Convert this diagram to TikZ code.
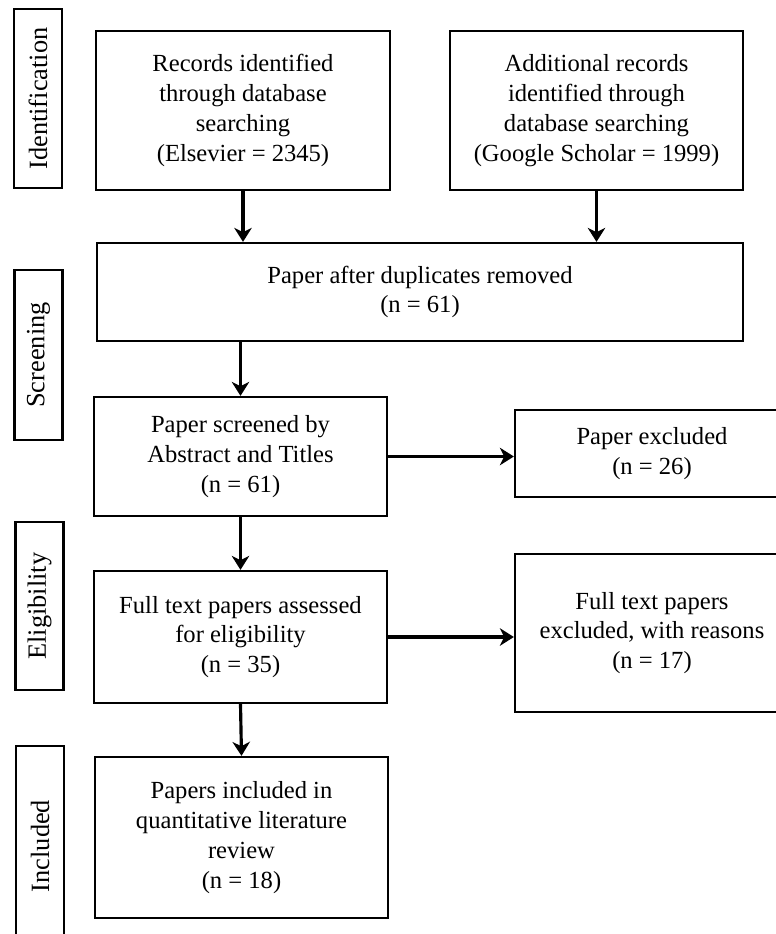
\documentclass[tikz,border=0pt]{standalone}
\usepackage{fontspec}
\setmainfont{Liberation Serif}
\usetikzlibrary{arrows.meta,positioning}
\tikzset{
  box/.style={draw=black,line width=1.3pt,align=center,font=\fontsize{14}{17}\selectfont},
  phase/.style={draw=black,line width=1.3pt,rotate=90,minimum height=0.96cm,font=\fontsize{15}{18}\selectfont},
  flow/.style={-{Stealth[length=8pt,width=10pt,inset=2.5pt]},line width=1.8pt},
}
\begin{document}
\begin{tikzpicture}[x=0.02cm,y=-0.02cm]
\clip (0,0) rectangle (776,934);
% phases
\node (pid) [phase,minimum width=3.58cm] at (38,98.5) {Identification};
\node (pscr) [phase,minimum width=3.4cm] at (38.5,355) {Screening};
\node (pelig) [phase,minimum width=3.36cm] at (39.5,606) {Eligibility};
\node (pinc) [phase,minimum width=4cm] at (40,846) {Included};
%
\node (rec) [box,minimum width=5.88cm,minimum height=3.18cm] at (243,110.5)
  {Records identified\\through database\\searching\\(Elsevier = 2345)};
\node (add) [box,minimum width=5.86cm,minimum height=3.18cm] at (596.5,110.5)
  {Additional records\\identified through\\database searching\\(Google Scholar = 1999)};
\node (dup) [box,minimum width=12.92cm,minimum height=1.96cm] at (420,292)
  {Paper after duplicates removed\\(n = 61)};
\node (scr) [box,minimum width=5.86cm,minimum height=2.38cm] at (240.5,456.5)
  {Paper screened by\\Abstract and Titles\\(n = 61)};
\node (exc) [box,minimum width=5.48cm,minimum height=1.74cm] at (652,453.5)
  {Paper excluded\\(n = 26)};
\node (elig) [box,minimum width=5.86cm,minimum height=2.64cm] at (240.5,637)
  {Full text papers assessed\\for eligibility\\(n = 35)};
\node (ftx) [box,minimum width=5.48cm,minimum height=3.16cm] at (652,633)
  {Full text papers\\excluded, with reasons\\(n = 17)};
\node (inc) [box,minimum width=5.86cm,minimum height=3.22cm] at (241.5,837.5)
  {Papers included in\\quantitative literature\\review\\(n = 18)};
%
\path[flow] (rec.south) edge (rec.south |- dup.north);
\path[flow] (add.south) edge (add.south |- dup.north);
\path[flow] (scr.north |- dup.south) edge (scr.north);
\path[flow] (scr.east) edge (scr.east -| exc.west);
\path[flow] (scr.south) edge (elig.north);
\path[flow] (elig.east) edge (elig.east -| ftx.west);
\path[flow] (elig.south) edge (inc.north);
\end{tikzpicture}
\end{document}
